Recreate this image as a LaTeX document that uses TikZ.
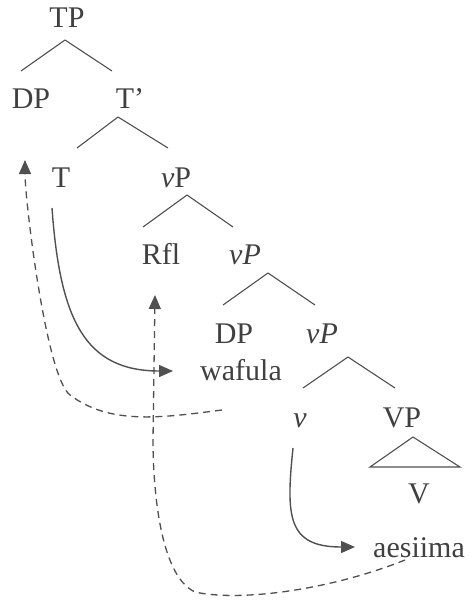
\documentclass[tikz,border=0pt]{standalone}
\usepackage{fontspec}
\setmainfont{Liberation Serif}
\usetikzlibrary{arrows.meta}
\definecolor{ink}{HTML}{404040}
\definecolor{wire}{HTML}{505050}
\tikzstyle{lbl} = [
  inner sep = 0pt, anchor = base, text = ink,
  font = \fontsize{30}{36}\selectfont
]
\tikzstyle{branch} = [draw = wire, line width = 1.1pt]
\tikzstyle{move} = [
  draw = wire, line width = 1.4pt,
  -{Triangle[length=14pt,width=12pt]}
]
\tikzstyle{trace} = [
  draw = wire, line width = 1.3pt, dash pattern = on 7pt off 5pt,
  -{Triangle[length=14pt,width=12pt]}
]

\begin{document}
\begin{tikzpicture}[x=1pt, y=-1pt]
    \useasboundingbox (0,0) rectangle (474,602);

    \node[lbl] (tp) at (67,28) {TP};
    \node[lbl] (dpa) at (31,108) {DP};
    \node[lbl] (tbar) at (130,108) {T’};
    \node[lbl] (t) at (61,187) {T};
    \node[lbl] (vpa) at (176,187) {\textit{v}P};
    \node[lbl] (rfl) at (161,264) {Rfl};
    \node[lbl] (vpb) at (245,264) {\textit{vP}};
    \node[lbl] (dpb) at (234,343) {DP};
    \node[lbl] (wafula) at (241,380) {wafula};
    \node[lbl] (vpc) at (322,343) {\textit{vP}};
    \node[lbl] (vsmall) at (300,427) {\textit{v}};
    \node[lbl] (vp) at (402,427) {VP};
    \node[lbl] (vbig) at (419,503) {V};
    \node[lbl] (aesiima) at (419,557) {aesiima};

    % tree
    \path[branch] ([shift={(-2,12)}]tp.base) -- ([shift={(-10,-37)}]dpa.base);
    \path[branch] ([shift={(-2,12)}]tp.base) -- ([shift={(-18,-37)}]tbar.base);
    \path[branch] ([shift={(-12,9)}]tbar.base) -- ([shift={(16,-39)}]t.base);
    \path[branch] ([shift={(-12,9)}]tbar.base) -- ([shift={(-8,-39)}]vpa.base);
    \path[branch] ([shift={(11,8)}]vpa.base) -- ([shift={(-18,-37)}]rfl.base);
    \path[branch] ([shift={(11,8)}]vpa.base) -- ([shift={(-12,-37)}]vpb.base);
    \path[branch] ([shift={(23,9)}]vpb.base) -- ([shift={(-11,-38)}]dpb.base);
    \path[branch] ([shift={(23,9)}]vpb.base) -- ([shift={(-7,-38)}]vpc.base);
    \path[branch] ([shift={(26,14)}]vpc.base) -- ([shift={(3,-39)}]vsmall.base);
    \path[branch] ([shift={(26,14)}]vpc.base) -- ([shift={(-7,-39)}]vp.base);
    \path[branch] ([shift={(11,10)}]vp.base) -- ([shift={(-49,-36)}]vbig.base)
      -- ([shift={(41,-36)}]vbig.base) -- cycle;

    % head movement
    \path[move] ([shift={(-9,21)}]t.base)
      .. controls +(8,112) and +(-88,0) .. ([shift={(-68,-9)}]wafula.base);
    \path[move] ([shift={(-7,21)}]vsmall.base)
      .. controls +(-7,68) and +(-68,0) .. ([shift={(-64,-10)}]aesiima.base);

    % dashed links
    \path[trace] ([shift={(-19,30)}]wafula.base)
      .. controls +(-62,8) and +(40,30) .. ++(-152,-15)
      .. controls +(-24,-18) and +(0,40) .. ([shift={(-6,52)}]dpa.base);
    \path[trace] ([shift={(-14,3)}]aesiima.base)
      .. controls +(-75,30) and +(45,10) .. ++(-210,32)
      .. controls +(-37,-17) and +(0,40) .. ++(-42,-152)
      -- ([shift={(-6,31)}]rfl.base);
\end{tikzpicture}
\end{document}
